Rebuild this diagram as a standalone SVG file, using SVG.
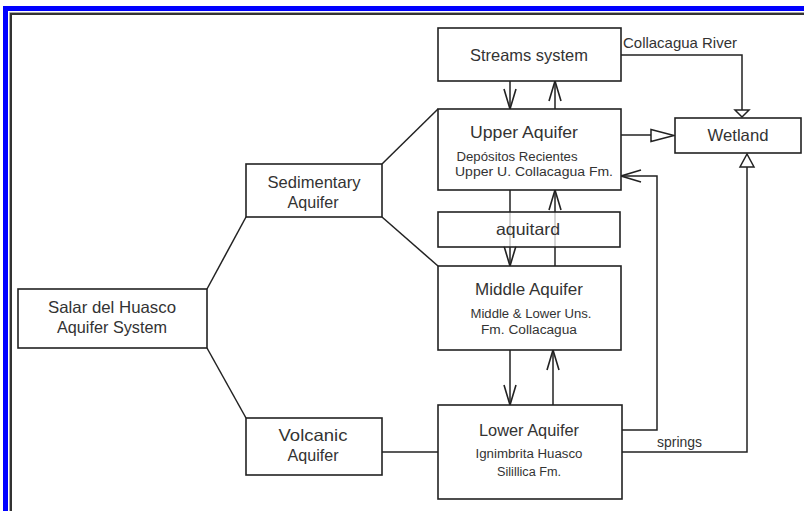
<svg xmlns="http://www.w3.org/2000/svg" width="804" height="511" viewBox="0 0 804 511">
  <style>
    .box { fill: #ffffff; stroke: #222222; stroke-width: 1.6; }
    .line { fill: none; stroke: #222222; stroke-width: 1.5; }
    .hollow { fill: #ffffff; stroke: #222222; stroke-width: 1.5; }
    text { font-family: "Liberation Sans", Arial, sans-serif; fill: #333333; text-anchor: middle; }
    .t { font-size: 16.5px; }
    .s { font-size: 12.5px; }
    .lbl { font-size: 14.5px; text-anchor: start; }
  </style>
  <defs>
    <marker id="vhead" viewBox="-22 -8 24 16" refX="0" refY="0" markerWidth="24" markerHeight="16" markerUnits="userSpaceOnUse" orient="auto">
      <path d="M-20,-6 L0,0 L-20,6" fill="none" stroke="#222222" stroke-width="1.6"/>
    </marker>
  </defs>

  <!-- page frame -->
  <rect x="0" y="0" width="804" height="511" fill="#ffffff"/>
  <g id="frame">
    <rect x="3" y="6" width="801" height="5" fill="#0000ff"/>
    <rect x="3" y="6" width="5" height="505" fill="#0000ff"/>
    <path d="M9.5,511 V12.5 H804" fill="none" stroke="#aaaaaa" stroke-width="1"/>
    <path d="M11,511 V14 H804" fill="none" stroke="#333333" stroke-width="2"/>
  </g>

  <!-- connectors -->
  <g id="connectors">
    <!-- tree lines -->
    <path class="line" d="M207,289 L246,217"/>
    <path class="line" d="M207,348 L246,418"/>
    <path class="line" d="M382,164 L438,109"/>
    <path class="line" d="M382,217 L438,266"/>
    <path class="line" d="M382,452 H438"/>

    <!-- streams <-> upper -->
    <path class="line" d="M510,81 V109" marker-end="url(#vhead)"/>
    <path class="line" d="M555,109 V81" marker-end="url(#vhead)"/>

    <!-- upper <-> middle, through the aquitard -->
    <path class="line" d="M510,190 V266" marker-end="url(#vhead)"/>
    <path class="line" d="M555,266 V190" marker-end="url(#vhead)"/>

    <!-- middle <-> lower -->
    <path class="line" d="M510,350 V405" marker-end="url(#vhead)"/>
    <path class="line" d="M553,405 V350" marker-end="url(#vhead)"/>

    <!-- lower back to upper -->
    <path class="line" d="M622,430 H657 V176 H621" marker-end="url(#vhead)"/>

    <!-- river to wetland -->
    <path class="line" d="M621,55 H742 V110"/>
    <polygon class="hollow" points="735,110 749,110 742,117"/>

    <!-- upper to wetland -->
    <path class="line" d="M621,135 H651"/>
    <polygon class="hollow" points="651,129.5 651,141.5 674,135.5"/>

    <!-- springs to wetland -->
    <path class="line" d="M622,452 H747 V167"/>
    <polygon class="hollow" points="740,167 754,167 747,154"/>
  </g>

  <!-- nodes -->
  <g id="salar">
    <rect class="box" x="18" y="289" width="189" height="59"/>
    <text class="t" x="112" y="313" textLength="128" lengthAdjust="spacingAndGlyphs">Salar del Huasco</text>
    <text class="t" x="112" y="333" textLength="110" lengthAdjust="spacingAndGlyphs">Aquifer System</text>
  </g>

  <g id="sedimentary">
    <rect class="box" x="246" y="164" width="136" height="53"/>
    <text class="t" x="314" y="188" textLength="93" lengthAdjust="spacingAndGlyphs">Sedimentary</text>
    <text class="t" x="313" y="208" textLength="51" lengthAdjust="spacingAndGlyphs">Aquifer</text>
  </g>

  <g id="volcanic">
    <rect class="box" x="246" y="418" width="136" height="57"/>
    <text class="t" x="313" y="441" textLength="69" lengthAdjust="spacingAndGlyphs">Volcanic</text>
    <text class="t" x="313" y="461" textLength="51" lengthAdjust="spacingAndGlyphs">Aquifer</text>
  </g>

  <g id="streams">
    <rect class="box" x="438" y="28" width="183" height="53"/>
    <text class="t" x="529" y="61" textLength="118" lengthAdjust="spacingAndGlyphs">Streams system</text>
  </g>

  <g id="upper">
    <rect class="box" x="438" y="109" width="183" height="81"/>
    <text class="t" x="524" y="138" textLength="108" lengthAdjust="spacingAndGlyphs">Upper Aquifer</text>
    <text class="s" x="517" y="161" textLength="121" lengthAdjust="spacingAndGlyphs">Depósitos Recientes</text>
    <text class="s" x="534" y="176" textLength="158" lengthAdjust="spacingAndGlyphs">Upper U. Collacagua Fm.</text>
  </g>

  <g id="aquitard">
    <rect x="438" y="212" width="182" height="35" fill="#ffffff" fill-opacity="0.75" stroke="#222222" stroke-width="1.6"/>
    <text class="t" x="528" y="235" textLength="64" lengthAdjust="spacingAndGlyphs">aquitard</text>
  </g>

  <g id="middle">
    <rect class="box" x="438" y="266" width="183" height="84"/>
    <text class="t" x="529" y="295" textLength="108" lengthAdjust="spacingAndGlyphs">Middle Aquifer</text>
    <text class="s" x="531" y="318" textLength="121" lengthAdjust="spacingAndGlyphs">Middle &amp; Lower Uns.</text>
    <text class="s" x="529" y="334" textLength="96" lengthAdjust="spacingAndGlyphs">Fm. Collacagua</text>
  </g>

  <g id="lower">
    <rect class="box" x="438" y="405" width="184" height="94"/>
    <text class="t" x="529" y="436" textLength="100" lengthAdjust="spacingAndGlyphs">Lower Aquifer</text>
    <text class="s" x="529" y="458" textLength="107" lengthAdjust="spacingAndGlyphs">Ignimbrita Huasco</text>
    <text class="s" x="529" y="476" textLength="64" lengthAdjust="spacingAndGlyphs">Silillica Fm.</text>
  </g>

  <g id="wetland">
    <rect class="box" x="675" y="118" width="126" height="35"/>
    <text class="t" x="738" y="141" textLength="61" lengthAdjust="spacingAndGlyphs">Wetland</text>
  </g>

  <!-- connector labels -->
  <g id="labels">
    <text class="lbl" x="623" y="48" textLength="114" lengthAdjust="spacingAndGlyphs">Collacagua River</text>
    <text class="lbl" x="657" y="447" textLength="45" lengthAdjust="spacingAndGlyphs">springs</text>
  </g>
</svg>
